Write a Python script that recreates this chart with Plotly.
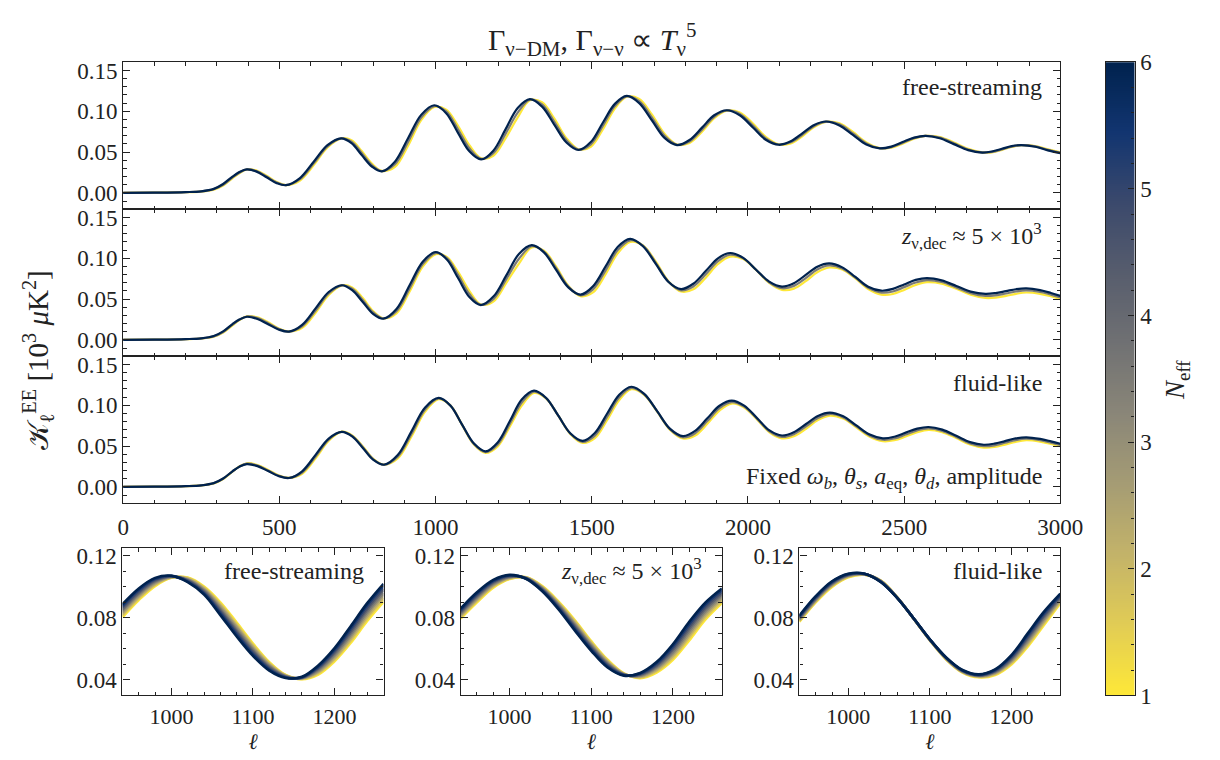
import numpy as np
import plotly.graph_objects as go
from plotly.colors import get_colorscale, sample_colorscale

# ---------------- data ----------------
N_TOP = [1.0, 3.5, 6.0]
N_ZOOM = [1.0, 1.625, 2.25, 2.875, 3.5, 4.125, 4.75, 5.375, 6.0]

# panel 1 : free-streaming (multipole grid + one list per N_eff)
ELL_FS = [0, 100, 200, 250, 290, 320, 350, 372, 396, 427, 459, 490, 521, 565, 610, 654, 698, 731, 763,
          796, 828, 870, 912, 954, 996, 1034, 1071, 1109, 1146, 1185, 1224, 1263, 1302, 1341, 1380,
          1419, 1458, 1497, 1535, 1574, 1612, 1652, 1693, 1733, 1773, 1813, 1853, 1892, 1932, 1974,
          2016, 2057, 2099, 2137, 2175, 2212, 2250, 2293, 2336, 2379, 2422, 2459, 2495, 2532, 2568,
          2614, 2659, 2705, 2750, 2781, 2813, 2844, 2875, 2920, 2960, 3000]
FS_TOP_N1 = [0.0000, 0.0003, 0.0009, 0.0017, 0.0040, 0.0090, 0.0180, 0.0240, 0.0287,
             0.0275, 0.0212, 0.0137, 0.0097, 0.0150, 0.0341, 0.0556, 0.0667,
             0.0645, 0.0516, 0.0359, 0.0271, 0.0319, 0.0579, 0.0892, 0.1053,
             0.1020, 0.0829, 0.0581, 0.0424, 0.0456, 0.0668, 0.0925, 0.1135,
             0.1110, 0.0912, 0.0670, 0.0535, 0.0566, 0.0776, 0.1034, 0.1178,
             0.1150, 0.0958, 0.0724, 0.0594, 0.0612, 0.0749, 0.0915, 0.1007,
             0.0985, 0.0850, 0.0686, 0.0595, 0.0607, 0.0697, 0.0808, 0.0870,
             0.0852, 0.0747, 0.0619, 0.0549, 0.0554, 0.0603, 0.0664, 0.0698,
             0.0685, 0.0619, 0.0540, 0.0497, 0.0498, 0.0527, 0.0563, 0.0584,
             0.0574, 0.0534, 0.0497]
FS_TOP_N35 = [0.0000, 0.0003, 0.0010, 0.0019, 0.0045, 0.0100, 0.0190, 0.0248, 0.0288,
              0.0268, 0.0202, 0.0130, 0.0096, 0.0165, 0.0362, 0.0571, 0.0668,
              0.0628, 0.0492, 0.0342, 0.0268, 0.0351, 0.0625, 0.0924, 0.1064,
              0.0999, 0.0786, 0.0544, 0.0417, 0.0487, 0.0724, 0.0983, 0.1142,
              0.1084, 0.0875, 0.0644, 0.0531, 0.0595, 0.0817, 0.1063, 0.1183,
              0.1125, 0.0923, 0.0699, 0.0590, 0.0630, 0.0775, 0.0933, 0.1010,
              0.0968, 0.0826, 0.0669, 0.0593, 0.0620, 0.0715, 0.0821, 0.0873,
              0.0840, 0.0729, 0.0607, 0.0548, 0.0561, 0.0613, 0.0671, 0.0699,
              0.0678, 0.0609, 0.0533, 0.0496, 0.0503, 0.0534, 0.0568, 0.0585,
              0.0570, 0.0528, 0.0492]
FS_TOP_N6 = [0.0000, 0.0003, 0.0010, 0.0020, 0.0050, 0.0110, 0.0200, 0.0256, 0.0289,
             0.0261, 0.0192, 0.0123, 0.0095, 0.0179, 0.0382, 0.0585, 0.0669,
             0.0610, 0.0467, 0.0324, 0.0265, 0.0383, 0.0670, 0.0956, 0.1074,
             0.0977, 0.0742, 0.0507, 0.0410, 0.0518, 0.0779, 0.1040, 0.1148,
             0.1057, 0.0837, 0.0617, 0.0526, 0.0623, 0.0857, 0.1091, 0.1188,
             0.1100, 0.0887, 0.0674, 0.0586, 0.0648, 0.0800, 0.0951, 0.1013,
             0.0951, 0.0802, 0.0652, 0.0590, 0.0632, 0.0733, 0.0833, 0.0875,
             0.0827, 0.0711, 0.0594, 0.0546, 0.0568, 0.0623, 0.0678, 0.0700,
             0.0670, 0.0598, 0.0525, 0.0495, 0.0508, 0.0541, 0.0573, 0.0586,
             0.0566, 0.0522, 0.0487]

# panel 2 : z_nu,dec ~ 5e3
ELL_ZD = [0, 100, 200, 250, 290, 320, 350, 372, 396, 430, 464, 497, 531, 573, 616, 658, 700, 733, 767,
          800, 833, 875, 917, 959, 1001, 1037, 1073, 1109, 1145, 1186, 1227, 1267, 1308, 1347, 1386,
          1425, 1464, 1504, 1544, 1583, 1623, 1664, 1705, 1745, 1786, 1825, 1865, 1904, 1943, 1985,
          2026, 2068, 2109, 2147, 2185, 2222, 2260, 2302, 2344, 2385, 2427, 2464, 2500, 2537, 2573,
          2620, 2667, 2713, 2760, 2793, 2826, 2858, 2891, 2935, 2970, 3000]
ZD_TOP_N1 = [0.0000, 0.0003, 0.0010, 0.0018, 0.0040, 0.0090, 0.0178, 0.0243, 0.0290,
             0.0277, 0.0217, 0.0144, 0.0104, 0.0148, 0.0333, 0.0550, 0.0668,
             0.0644, 0.0513, 0.0354, 0.0266, 0.0325, 0.0593, 0.0899, 0.1051,
             0.1014, 0.0827, 0.0596, 0.0434, 0.0473, 0.0702, 0.0935, 0.1133,
             0.1094, 0.0897, 0.0663, 0.0537, 0.0582, 0.0803, 0.1061, 0.1201,
             0.1159, 0.0958, 0.0721, 0.0593, 0.0621, 0.0763, 0.0930, 0.1021,
             0.0992, 0.0857, 0.0699, 0.0614, 0.0629, 0.0720, 0.0829, 0.0887,
             0.0862, 0.0753, 0.0624, 0.0556, 0.0563, 0.0613, 0.0673, 0.0707,
             0.0690, 0.0627, 0.0553, 0.0514, 0.0518, 0.0540, 0.0565, 0.0581,
             0.0565, 0.0535, 0.0500]
ZD_TOP_N35 = [0.0000, 0.0003, 0.0010, 0.0019, 0.0044, 0.0098, 0.0187, 0.0247, 0.0287,
              0.0267, 0.0205, 0.0137, 0.0103, 0.0167, 0.0360, 0.0569, 0.0669,
              0.0627, 0.0489, 0.0337, 0.0263, 0.0352, 0.0631, 0.0929, 0.1064,
              0.0998, 0.0790, 0.0559, 0.0431, 0.0504, 0.0748, 0.0994, 0.1147,
              0.1083, 0.0878, 0.0654, 0.0547, 0.0619, 0.0850, 0.1100, 0.1220,
              0.1154, 0.0945, 0.0717, 0.0608, 0.0655, 0.0804, 0.0965, 0.1043,
              0.0999, 0.0859, 0.0707, 0.0634, 0.0662, 0.0758, 0.0863, 0.0913,
              0.0876, 0.0762, 0.0638, 0.0580, 0.0594, 0.0647, 0.0704, 0.0732,
              0.0710, 0.0644, 0.0573, 0.0539, 0.0546, 0.0569, 0.0593, 0.0606,
              0.0588, 0.0555, 0.0520]
ZD_TOP_N6 = [0.0000, 0.0003, 0.0010, 0.0020, 0.0048, 0.0105, 0.0195, 0.0250, 0.0284,
             0.0257, 0.0193, 0.0129, 0.0102, 0.0185, 0.0386, 0.0587, 0.0670,
             0.0610, 0.0465, 0.0320, 0.0260, 0.0379, 0.0669, 0.0958, 0.1077,
             0.0982, 0.0752, 0.0522, 0.0427, 0.0534, 0.0794, 0.1053, 0.1160,
             0.1072, 0.0858, 0.0644, 0.0556, 0.0656, 0.0897, 0.1138, 0.1238,
             0.1148, 0.0931, 0.0713, 0.0623, 0.0688, 0.0844, 0.1000, 0.1065,
             0.1005, 0.0860, 0.0714, 0.0654, 0.0695, 0.0796, 0.0897, 0.0938,
             0.0889, 0.0771, 0.0652, 0.0603, 0.0625, 0.0680, 0.0735, 0.0757,
             0.0729, 0.0661, 0.0592, 0.0564, 0.0574, 0.0598, 0.0621, 0.0631,
             0.0610, 0.0575, 0.0540]

# panel 3 : fluid-like
ELL_FL = [0, 100, 200, 250, 290, 320, 350, 372, 396, 430, 464, 497, 531, 573, 616, 658, 700, 734, 768,
          801, 835, 879, 923, 966, 1010, 1048, 1085, 1123, 1160, 1199, 1238, 1276, 1315, 1354, 1393,
          1432, 1471, 1510, 1549, 1588, 1627, 1668, 1710, 1751, 1792, 1831, 1870, 1909, 1948, 1988,
          2029, 2069, 2109, 2147, 2186, 2224, 2262, 2305, 2347, 2390, 2432, 2469, 2505, 2542, 2578,
          2622, 2667, 2711, 2755, 2789, 2823, 2857, 2891, 2935, 2970, 3000]
FL_TOP_N1 = [0.0000, 0.0003, 0.0010, 0.0019, 0.0044, 0.0098, 0.0188, 0.0250, 0.0290,
             0.0269, 0.0209, 0.0144, 0.0112, 0.0162, 0.0351, 0.0566, 0.0677,
             0.0629, 0.0493, 0.0344, 0.0274, 0.0349, 0.0617, 0.0919, 0.1075,
             0.0997, 0.0760, 0.0519, 0.0417, 0.0497, 0.0741, 0.0995, 0.1152,
             0.1083, 0.0872, 0.0647, 0.0539, 0.0597, 0.0817, 0.1065, 0.1196,
             0.1127, 0.0919, 0.0697, 0.0593, 0.0630, 0.0773, 0.0936, 0.1021,
             0.0973, 0.0827, 0.0669, 0.0595, 0.0620, 0.0713, 0.0819, 0.0874,
             0.0838, 0.0730, 0.0614, 0.0560, 0.0572, 0.0618, 0.0671, 0.0699,
             0.0672, 0.0599, 0.0519, 0.0482, 0.0489, 0.0519, 0.0553, 0.0572,
             0.0556, 0.0527, 0.0498]
FL_TOP_N35 = [0.0000, 0.0003, 0.0010, 0.0020, 0.0046, 0.0101, 0.0190, 0.0249, 0.0285,
              0.0262, 0.0202, 0.0140, 0.0111, 0.0177, 0.0372, 0.0580, 0.0676,
              0.0623, 0.0484, 0.0338, 0.0273, 0.0370, 0.0649, 0.0945, 0.1083,
              0.0996, 0.0762, 0.0525, 0.0427, 0.0521, 0.0775, 0.1033, 0.1166,
              0.1087, 0.0872, 0.0651, 0.0552, 0.0629, 0.0857, 0.1098, 0.1212,
              0.1133, 0.0922, 0.0704, 0.0608, 0.0658, 0.0807, 0.0965, 0.1039,
              0.0984, 0.0836, 0.0681, 0.0613, 0.0646, 0.0742, 0.0845, 0.0893,
              0.0852, 0.0742, 0.0628, 0.0578, 0.0594, 0.0642, 0.0693, 0.0717,
              0.0687, 0.0613, 0.0534, 0.0500, 0.0510, 0.0541, 0.0574, 0.0590,
              0.0572, 0.0543, 0.0514]
FL_TOP_N6 = [0.0000, 0.0003, 0.0010, 0.0020, 0.0047, 0.0103, 0.0192, 0.0248, 0.0280,
             0.0255, 0.0195, 0.0135, 0.0110, 0.0192, 0.0393, 0.0593, 0.0675,
             0.0616, 0.0474, 0.0331, 0.0272, 0.0391, 0.0681, 0.0971, 0.1090,
             0.0995, 0.0763, 0.0531, 0.0436, 0.0545, 0.0808, 0.1071, 0.1180,
             0.1090, 0.0872, 0.0654, 0.0564, 0.0661, 0.0896, 0.1130, 0.1227,
             0.1139, 0.0925, 0.0711, 0.0623, 0.0686, 0.0840, 0.0994, 0.1057,
             0.0995, 0.0844, 0.0692, 0.0630, 0.0671, 0.0771, 0.0870, 0.0911,
             0.0865, 0.0753, 0.0641, 0.0595, 0.0615, 0.0665, 0.0714, 0.0734,
             0.0702, 0.0626, 0.0549, 0.0517, 0.0530, 0.0562, 0.0594, 0.0607,
             0.0588, 0.0558, 0.0529]

# zoomed panels (ell 940..1260), one list per N_eff value in N_ZOOM
ELL_ZOOM = list(range(940, 1261, 20))
FS_ZOOM_N1 = [0.0804, 0.0915, 0.1005, 0.1058, 0.1060, 0.1002, 0.0900, 0.0770, 0.0635, 0.0515, 0.0432, 0.0405, 0.0435, 0.0520, 0.0640, 0.0780, 0.0904]
FS_ZOOM_N1625 = [0.0815, 0.0925, 0.1012, 0.1060, 0.1057, 0.0996, 0.0890, 0.0759, 0.0625, 0.0508, 0.0430, 0.0407, 0.0443, 0.0531, 0.0654, 0.0795, 0.0919]
FS_ZOOM_N225 = [0.0825, 0.0934, 0.1018, 0.1062, 0.1053, 0.0989, 0.0880, 0.0748, 0.0615, 0.0501, 0.0427, 0.0409, 0.0450, 0.0541, 0.0667, 0.0809, 0.0933]
FS_ZOOM_N2875 = [0.0836, 0.0944, 0.1025, 0.1064, 0.1049, 0.0983, 0.0870, 0.0737, 0.0605, 0.0495, 0.0425, 0.0411, 0.0457, 0.0552, 0.0681, 0.0824, 0.0948]
FS_ZOOM_N35 = [0.0846, 0.0953, 0.1032, 0.1065, 0.1045, 0.0976, 0.0859, 0.0725, 0.0595, 0.0488, 0.0423, 0.0413, 0.0464, 0.0563, 0.0694, 0.0838, 0.0962]
FS_ZOOM_N4125 = [0.0857, 0.0962, 0.1039, 0.1067, 0.1042, 0.0970, 0.0849, 0.0714, 0.0585, 0.0481, 0.0421, 0.0415, 0.0472, 0.0574, 0.0708, 0.0852, 0.0977]
FS_ZOOM_N475 = [0.0867, 0.0971, 0.1045, 0.1069, 0.1038, 0.0963, 0.0839, 0.0703, 0.0575, 0.0474, 0.0418, 0.0416, 0.0479, 0.0584, 0.0721, 0.0866, 0.0991]
FS_ZOOM_N5375 = [0.0878, 0.0981, 0.1052, 0.1071, 0.1034, 0.0957, 0.0829, 0.0692, 0.0565, 0.0467, 0.0416, 0.0418, 0.0486, 0.0595, 0.0735, 0.0881, 0.1006]
FS_ZOOM_N6 = [0.0888, 0.0990, 0.1058, 0.1072, 0.1030, 0.0950, 0.0818, 0.0680, 0.0555, 0.0460, 0.0413, 0.0420, 0.0493, 0.0605, 0.0748, 0.0895, 0.1020]

ZD_ZOOM_N1 = [0.0795, 0.0900, 0.0995, 0.1050, 0.1062, 0.1005, 0.0905, 0.0785, 0.0650, 0.0530, 0.0442, 0.0412, 0.0448, 0.0530, 0.0655, 0.0790, 0.0895]
ZD_ZOOM_N1625 = [0.0803, 0.0908, 0.1002, 0.1054, 0.1061, 0.1001, 0.0899, 0.0777, 0.0643, 0.0524, 0.0441, 0.0416, 0.0457, 0.0543, 0.0670, 0.0804, 0.0907]
ZD_ZOOM_N225 = [0.0811, 0.0916, 0.1008, 0.1057, 0.1060, 0.0997, 0.0893, 0.0768, 0.0635, 0.0518, 0.0439, 0.0420, 0.0465, 0.0555, 0.0685, 0.0818, 0.0919]
ZD_ZOOM_N2875 = [0.0820, 0.0925, 0.1014, 0.1061, 0.1059, 0.0993, 0.0887, 0.0760, 0.0627, 0.0512, 0.0437, 0.0425, 0.0474, 0.0568, 0.0700, 0.0832, 0.0931]
ZD_ZOOM_N35 = [0.0828, 0.0933, 0.1020, 0.1064, 0.1057, 0.0989, 0.0880, 0.0752, 0.0619, 0.0505, 0.0435, 0.0429, 0.0482, 0.0580, 0.0715, 0.0845, 0.0943]
ZD_ZOOM_N4125 = [0.0836, 0.0941, 0.1027, 0.1067, 0.1056, 0.0985, 0.0874, 0.0744, 0.0612, 0.0499, 0.0434, 0.0433, 0.0490, 0.0593, 0.0730, 0.0859, 0.0955]
ZD_ZOOM_N475 = [0.0844, 0.0949, 0.1033, 0.1070, 0.1055, 0.0980, 0.0868, 0.0735, 0.0604, 0.0493, 0.0432, 0.0437, 0.0498, 0.0605, 0.0745, 0.0873, 0.0966]
ZD_ZOOM_N5375 = [0.0852, 0.0957, 0.1039, 0.1074, 0.1054, 0.0976, 0.0862, 0.0727, 0.0596, 0.0487, 0.0430, 0.0441, 0.0507, 0.0618, 0.0760, 0.0887, 0.0978]
ZD_ZOOM_N6 = [0.0860, 0.0965, 0.1045, 0.1077, 0.1052, 0.0972, 0.0855, 0.0718, 0.0588, 0.0480, 0.0428, 0.0445, 0.0515, 0.0630, 0.0775, 0.0900, 0.0990]

FL_ZOOM_N1 = [0.0775, 0.0900, 0.1000, 0.1062, 0.1078, 0.1040, 0.0932, 0.0795, 0.0655, 0.0532, 0.0448, 0.0417, 0.0432, 0.0500, 0.0615, 0.0755, 0.0894]
FL_ZOOM_N1625 = [0.0780, 0.0905, 0.1005, 0.1065, 0.1079, 0.1039, 0.0932, 0.0796, 0.0656, 0.0534, 0.0450, 0.0420, 0.0437, 0.0508, 0.0626, 0.0766, 0.0902]
FL_ZOOM_N225 = [0.0785, 0.0910, 0.1009, 0.1068, 0.1080, 0.1038, 0.0931, 0.0796, 0.0657, 0.0535, 0.0452, 0.0422, 0.0441, 0.0515, 0.0636, 0.0776, 0.0910]
FL_ZOOM_N2875 = [0.0790, 0.0915, 0.1014, 0.1071, 0.1081, 0.1037, 0.0931, 0.0797, 0.0658, 0.0537, 0.0454, 0.0425, 0.0446, 0.0523, 0.0647, 0.0787, 0.0918]
FL_ZOOM_N35 = [0.0795, 0.0920, 0.1018, 0.1074, 0.1082, 0.1035, 0.0930, 0.0797, 0.0659, 0.0539, 0.0456, 0.0427, 0.0450, 0.0530, 0.0658, 0.0798, 0.0925]
FL_ZOOM_N4125 = [0.0800, 0.0925, 0.1023, 0.1077, 0.1083, 0.1034, 0.0930, 0.0797, 0.0660, 0.0541, 0.0458, 0.0429, 0.0455, 0.0538, 0.0669, 0.0809, 0.0933]
FL_ZOOM_N475 = [0.0805, 0.0930, 0.1027, 0.1079, 0.1083, 0.1033, 0.0929, 0.0797, 0.0660, 0.0542, 0.0460, 0.0431, 0.0459, 0.0545, 0.0679, 0.0819, 0.0941]
FL_ZOOM_N5375 = [0.0810, 0.0935, 0.1032, 0.1082, 0.1084, 0.1032, 0.0929, 0.0798, 0.0661, 0.0544, 0.0462, 0.0434, 0.0464, 0.0553, 0.0690, 0.0830, 0.0949]
FL_ZOOM_N6 = [0.0815, 0.0940, 0.1036, 0.1085, 0.1085, 0.1030, 0.0928, 0.0798, 0.0662, 0.0545, 0.0464, 0.0436, 0.0468, 0.0560, 0.0700, 0.0840, 0.0956]

TOP_LABELS = ["free-streaming", "<i>z</i><sub>ν,dec</sub> ≈ 5 × 10<sup>3</sup>", "fluid-like"]
TITLE = "Γ<sub>ν−DM</sub>, Γ<sub>ν−ν</sub> ∝ <i>T</i><sub>ν</sub><sup>5</sup>"
FIXED_NOTE = ("Fixed <i>ω<sub>b</sub></i>, <i>θ<sub>s</sub></i>, <i>a</i><sub>eq</sub>, "
              "<i>θ<sub>d</sub></i>, amplitude")
YLABEL = "𝒦<sub>ℓ</sub><sup>EE</sup> [10<sup>3</sup> <i>μ</i>K<sup>2</sup>]"
XLABEL = "<i>ℓ</i>"
NEFF_MIN, NEFF_MAX = 1, 6

# ---------------- styling ----------------
FONT = "Liberation Serif"
INK = "#222222"
W, H = 1220, 760
CIV = get_colorscale("Cividis")


def neff_color(n):
    t = (NEFF_MAX - n) / (NEFF_MAX - NEFF_MIN)
    return sample_colorscale(CIV, [t], colortype="rgb")[0]


def px_x(p):
    return p / W


def px_y(p):
    return 1 - p / H


def minor_ticks(dt):
    return dict(ticks="inside", ticklen=3.5, tickwidth=1, tickcolor=INK, dtick=dt, tick0=0, showgrid=False)


def base_axis(**kw):
    d = dict(showline=True, linecolor=INK, linewidth=1.3, mirror="ticks",
             ticks="inside", ticklen=7, tickwidth=1.2, tickcolor=INK,
             showgrid=False, zeroline=False,
             tickfont=dict(family=FONT, size=23, color=INK))
    d.update(kw)
    return d


fig = go.Figure()

top_sets = [
    (ELL_FS, [FS_TOP_N1, FS_TOP_N35, FS_TOP_N6]),
    (ELL_ZD, [ZD_TOP_N1, ZD_TOP_N35, ZD_TOP_N6]),
    (ELL_FL, [FL_TOP_N1, FL_TOP_N35, FL_TOP_N6]),
]
zoom_sets = [
    [FS_ZOOM_N1, FS_ZOOM_N1625, FS_ZOOM_N225, FS_ZOOM_N2875, FS_ZOOM_N35,
     FS_ZOOM_N4125, FS_ZOOM_N475, FS_ZOOM_N5375, FS_ZOOM_N6],
    [ZD_ZOOM_N1, ZD_ZOOM_N1625, ZD_ZOOM_N225, ZD_ZOOM_N2875, ZD_ZOOM_N35,
     ZD_ZOOM_N4125, ZD_ZOOM_N475, ZD_ZOOM_N5375, ZD_ZOOM_N6],
    [FL_ZOOM_N1, FL_ZOOM_N1625, FL_ZOOM_N225, FL_ZOOM_N2875, FL_ZOOM_N35,
     FL_ZOOM_N4125, FL_ZOOM_N475, FL_ZOOM_N5375, FL_ZOOM_N6],
]

for i, (ells, curves) in enumerate(top_sets):
    ax = "" if i == 0 else str(i + 1)
    for n, ys in zip(N_TOP, curves):
        fig.add_trace(go.Scatter(x=ells, y=ys, mode="lines",
                                 line=dict(color=neff_color(n), width=2.2, shape="spline", smoothing=1.0),
                                 xaxis="x" + ax, yaxis="y" + ax, showlegend=False, hoverinfo="skip"))

for j, curves in enumerate(zoom_sets):
    ax = str(j + 4)
    for n, ys in zip(N_ZOOM, curves):
        fig.add_trace(go.Scatter(x=ELL_ZOOM, y=ys, mode="lines",
                                 line=dict(color=neff_color(n), width=2.6, shape="spline", smoothing=1.0),
                                 xaxis="x" + ax, yaxis="y" + ax, showlegend=False, hoverinfo="skip"))

# colour bar drawn as a heat map on its own axes
CBAR_LEVELS = np.linspace(NEFF_MIN, NEFF_MAX, 300)
fig.add_trace(go.Heatmap(z=[[v] for v in CBAR_LEVELS], x=[0], y=CBAR_LEVELS,
                         colorscale="Cividis", reversescale=True, zmin=NEFF_MIN, zmax=NEFF_MAX,
                         showscale=False, xaxis="x7", yaxis="y7", hoverinfo="skip"))

layout = dict(width=W, height=H, autosize=False, margin=dict(l=0, r=0, t=0, b=0),
              paper_bgcolor="white", plot_bgcolor="white", hovermode=False,
              font=dict(family=FONT, color=INK))

x_top = [px_x(120), px_x(1080)]
top_rows = [(52, 204), (204, 356), (356, 508)]
for i, (t, b) in enumerate(top_rows):
    ax = "" if i == 0 else str(i + 1)
    layout["xaxis" + ax] = base_axis(domain=x_top, range=[0, 3000], tick0=0, dtick=500,
                                     anchor="y" + ax, showticklabels=(i == 2), ticklabelstandoff=3,
                                     minor=minor_ticks(100))
    layout["yaxis" + ax] = base_axis(domain=[px_y(b), px_y(t)], range=[-0.02, 0.16], tick0=0, dtick=0.05,
                                     tickformat=".2f", anchor="x" + ax, minor=minor_ticks(0.01))

zoom_cols = [(119.3, 386.7), (465.7, 733.3), (812.7, 1080)]
for j, (l, r) in enumerate(zoom_cols):
    ax = str(j + 4)
    layout["xaxis" + ax] = base_axis(domain=[px_x(l), px_x(r)], range=[940, 1260], tick0=0, dtick=100,
                                     anchor="y" + ax, ticklabelstandoff=1, minor=minor_ticks(20),
                                     tickfont=dict(family=FONT, size=22, color=INK),
                                     title=dict(text=XLABEL, standoff=0,
                                                font=dict(family=FONT, size=22, color=INK)))
    layout["yaxis" + ax] = base_axis(domain=[px_y(706.7), px_y(554.3)], range=[0.03, 0.125], tick0=0,
                                     dtick=0.04, tickformat=".2f", anchor="x" + ax, minor=minor_ticks(0.01))

layout["xaxis7"] = dict(domain=[px_x(1126.7), px_x(1156)], range=[-0.5, 0.5], anchor="y7",
                        showline=True, linecolor=INK, linewidth=1.3, mirror=True,
                        showticklabels=False, ticks="", showgrid=False, zeroline=False)
layout["yaxis7"] = dict(domain=[px_y(706.7), px_y(52)], range=[NEFF_MIN, NEFF_MAX], anchor="x7",
                        side="right", showline=True, linecolor=INK, linewidth=1.3, mirror=True,
                        ticks="inside", ticklen=6, tickwidth=1.2, tickcolor=INK, tick0=0, dtick=1,
                        showgrid=False, zeroline=False,
                        tickfont=dict(family=FONT, size=23, color=INK),
                        minor=dict(ticks="inside", ticklen=3.5, tickwidth=1, tickcolor=INK,
                                   dtick=0.2, tick0=0, showgrid=False))

ann = []
ann.append(dict(text=TITLE, x=px_x(600), y=px_y(28), xref="paper", yref="paper",
                xanchor="center", yanchor="middle", showarrow=False,
                font=dict(family=FONT, size=30, color=INK)))
ann.append(dict(text=YLABEL, x=px_x(33), y=px_y(360), xref="paper", yref="paper",
                xanchor="center", yanchor="middle", showarrow=False, textangle=-90,
                font=dict(family=FONT, size=29, color=INK)))
for txt, yc in zip(TOP_LABELS, [78, 232, 384]):
    ann.append(dict(text=txt, x=px_x(1063), y=px_y(yc), xref="paper", yref="paper",
                    xanchor="right", yanchor="middle", showarrow=False,
                    font=dict(family=FONT, size=24, color=INK)))
ann.append(dict(text=FIXED_NOTE, x=px_x(1063), y=px_y(482), xref="paper", yref="paper",
                xanchor="right", yanchor="middle", showarrow=False,
                font=dict(family=FONT, size=24, color=INK)))
for txt, xr in zip(TOP_LABELS, [369, 715, 1063]):
    ann.append(dict(text=txt, x=px_x(xr), y=px_y(578), xref="paper", yref="paper",
                    xanchor="right", yanchor="middle", showarrow=False,
                    font=dict(family=FONT, size=24, color=INK)))
ann.append(dict(text="<i>N</i><sub>eff</sub>", x=px_x(1199), y=px_y(380), xref="paper", yref="paper",
                xanchor="center", yanchor="middle", showarrow=False, textangle=-90,
                font=dict(family=FONT, size=27, color=INK)))
layout["annotations"] = ann

fig.update_layout(**layout)
fig.write_html("out.html")
